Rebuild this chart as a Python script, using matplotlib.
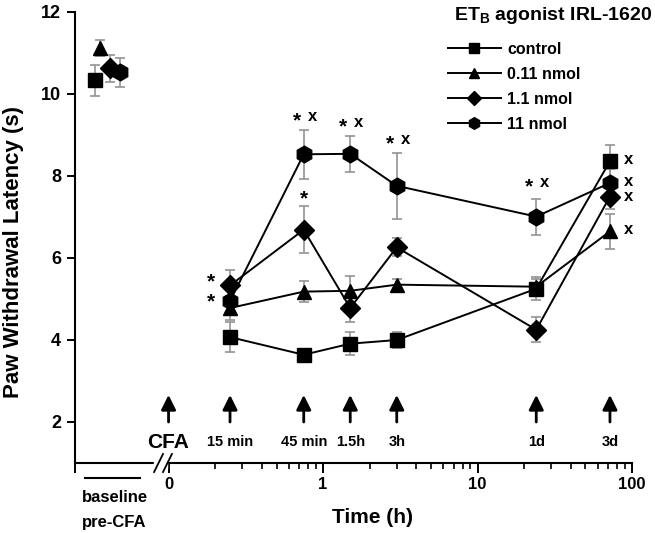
import numpy as np
import matplotlib
matplotlib.use("Agg")
import matplotlib.pyplot as plt
from matplotlib.ticker import FixedLocator, NullFormatter

plt.rcParams['font.family'] = ['Liberation Sans', 'DejaVu Sans']
plt.rcParams['font.weight'] = 'bold'
plt.rcParams['mathtext.fontset'] = 'custom'
plt.rcParams['mathtext.bf'] = 'Liberation Sans:bold'
plt.rcParams['mathtext.rm'] = 'Liberation Sans:bold'

# time points after CFA (h)
times = [0.25, 0.75, 1.5, 3, 24, 72]
arrow_times = [0.1, 0.25, 0.75, 1.5, 3, 24, 72]
arrow_labels = ["CFA", "15 min", "45 min", "1.5h", "3h", "1d", "3d"]

series_names = ["control", "0.11 nmol", "1.1 nmol", "11 nmol"]
markers = ["s", "^", "D", "h"]
marker_sizes = [9.5, 10.5, 10, 12]

control = [4.07, 3.64, 3.91, 4.00, 5.25, 8.36]
control_err = [0.36, 0.10, 0.28, 0.20, 0.28, 0.40]
low = [4.78, 5.18, 5.20, 5.35, 5.30, 6.65]
low_err = [0.30, 0.25, 0.37, 0.15, 0.20, 0.42]
mid = [5.33, 6.69, 4.78, 6.26, 4.25, 7.50]
mid_err = [0.37, 0.58, 0.35, 0.22, 0.30, 0.30]
high = [4.95, 8.53, 8.54, 7.76, 7.01, 7.83]
high_err = [0.30, 0.60, 0.44, 0.80, 0.44, 0.35]

# baseline (pre-CFA), drawn left of the axis break
baseline_x = [0.0334, 0.036, 0.0418, 0.0485]
baseline_y = [10.33, 11.12, 10.63, 10.53]
baseline_err = [0.38, 0.20, 0.33, 0.35]

# significance marks
stars = [(0.25, 5.52), (0.25, 5.03), (0.75, 9.45), (0.75, 7.54),
         (1.5, 9.30), (3, 8.89), (24, 7.84)]
crosses = [(0.75, 9.45), (1.5, 9.30), (3, 8.89), (24, 7.84)]
crosses_3d = [8.40, 7.86, 7.49, 6.69]

means = [control, low, mid, high]
errs = [control_err, low_err, mid_err, high_err]

fig = plt.figure(figsize=(6.55, 5.33), dpi=100)
ax = fig.add_axes([75 / 655, 70 / 533, 557 / 655, 451 / 533])
ax.set_xscale('log')
ax.set_xlim(0.0248, 100)
ax.set_ylim(1, 12)

ecol = '#939393'
handles = []
for i in range(4):
    ax.errorbar(times, means[i], yerr=errs[i], fmt='none', ecolor=ecol,
                elinewidth=1.2, capsize=3.5, capthick=1.2, zorder=2)
    ax.errorbar([baseline_x[i]], [baseline_y[i]], yerr=[baseline_err[i]],
                fmt='none', ecolor=ecol, elinewidth=1.2, capsize=3.5,
                capthick=1.2, zorder=2)
    h, = ax.plot(times, means[i], color='black', lw=1.4, marker=markers[i],
                 ms=marker_sizes[i], mfc='black', mec='black', zorder=3,
                 label=series_names[i])
    ax.plot([baseline_x[i]], [baseline_y[i]], ls='none', marker=markers[i],
            ms=marker_sizes[i], mfc='black', mec='black', zorder=3)
    handles.append(h)

# arrows for injection/measurement times
for t, lab in zip(arrow_times, arrow_labels):
    ax.annotate("", xy=(t, 2.66), xytext=(t, 2.0),
                arrowprops=dict(arrowstyle='-|>', color='black', lw=2,
                                mutation_scale=22, shrinkA=0, shrinkB=0))
    fs = 15 if lab == "CFA" else 10.5
    ax.text(t, 1.5, lab, ha='center', va='center', fontsize=fs,
            fontweight='bold')

for t, y in stars:
    dx = -5 if (t, y) in crosses else 0
    if t == 0.25:
        dx = -14
    ax.annotate("*", xy=(t, y), xytext=(dx, -3), textcoords='offset points',
                ha='center', va='center', fontsize=15, fontweight='bold')
for t, y in crosses:
    ax.annotate("x", xy=(t, y), xytext=(6, 0), textcoords='offset points',
                ha='center', va='center', fontsize=12, fontweight='bold')
for y in crosses_3d:
    ax.annotate("x", xy=(72, y), xytext=(13, 0), textcoords='offset points',
                ha='center', va='center', fontsize=12, fontweight='bold')

# axes styling
for side in ['top', 'right']:
    ax.spines[side].set_visible(False)
for side in ['left', 'bottom']:
    ax.spines[side].set_linewidth(1.5)

ax.xaxis.set_major_locator(FixedLocator([0.0248, 0.1, 1, 10, 100]))
ax.set_xticklabels(["", "0", "1", "10", "100"])
minor = [m * d for d in [0.1, 1, 10] for m in range(2, 10)]
ax.xaxis.set_minor_locator(FixedLocator(minor))
ax.xaxis.set_minor_formatter(NullFormatter())
ax.set_yticks([2, 4, 6, 8, 10, 12])
ax.tick_params(axis='x', which='major', direction='out', length=7, width=1.4,
               labelsize=12, pad=3)
ax.tick_params(axis='x', which='minor', direction='out', length=4, width=1.2)
ax.tick_params(axis='y', which='major', direction='out', length=6, width=1.4,
               labelsize=13, pad=4)
for lab in ax.get_xticklabels() + ax.get_yticklabels():
    lab.set_fontweight('bold')

ax.set_ylabel("Paw Withdrawal Latency (s)", fontsize=16, fontweight='bold')
ax.yaxis.set_label_coords((24 - 75) / 557, (463 - 252) / 451)
ax.set_xlabel("Time (h)", fontsize=15, fontweight='bold')
ax.xaxis.set_label_coords((372 - 75) / 557, -(508 - 463) / 451)

# axis break
ax.add_patch(plt.Rectangle((0.142, -0.01), 0.024, 0.02, transform=ax.transAxes,
                           color='white', clip_on=False, zorder=5))
for x0 in [0.142, 0.158]:
    ax.plot([x0, x0 + 0.016], [-0.02, 0.02], color='black', lw=1.3,
            transform=ax.transAxes, clip_on=False, zorder=6)

# baseline marker under axis
ax.plot([0.018, 0.117], [-0.034, -0.034], color='black', lw=1.5,
        transform=ax.transAxes, clip_on=False)
ax.text(0.0126, -0.076, "baseline", transform=ax.transAxes, ha='left',
        va='center', fontsize=12, fontweight='bold')
ax.text(0.0126, -0.133, "pre-CFA", transform=ax.transAxes, ha='left',
        va='center', fontsize=12, fontweight='bold')

fig.text(652 / 655, 1 - 16 / 533, r"ET$_\mathbf{B}$ agonist IRL-1620",
         ha='right', va='center', fontsize=14, fontweight='bold')

leg = ax.legend(handles=handles, loc='upper left',
                bbox_to_anchor=(448 / 655, 1 - 42 / 533),
                bbox_transform=fig.transFigure, frameon=False,
                handlelength=3.3, handletextpad=0.4, labelspacing=0.62,
                markerscale=0.7, borderpad=0, borderaxespad=0,
                prop={'size': 11.5, 'weight': 'bold'})

fig.savefig("out.png", dpi=100)
